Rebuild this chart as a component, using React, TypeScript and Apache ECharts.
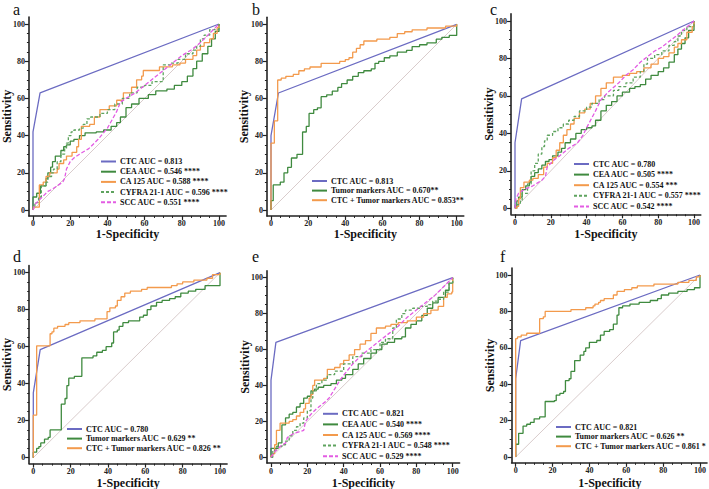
import React, { useEffect, useRef } from "react";
import * as echarts from "echarts";

const FONT = '"Liberation Serif", "Times New Roman", serif';

const tickValues = [0, 20, 40, 60, 80, 100];
const minorValues = [5, 10, 15, 25, 30, 35, 45, 50, 55, 65, 70, 75, 85, 90, 95];
const diagonal = [[0, 0], [100, 100]];

// Panel a
const aCTC = [[0, 0], [0, 42], [3.8, 63], [100, 100]];
const aCEA = [[0, 0], [0, 7], [2, 9], [4, 13], [7, 17], [8, 20], [9.5, 23], [10.5, 26], [12, 29], [15, 32], [16.5, 34], [18, 35], [20, 37], [22, 38], [25, 40], [28, 41.5], [34, 42], [38, 43], [42, 45], [45, 47], [47, 50], [50, 55], [53, 57], [57, 60], [62, 62], [66, 64], [72, 65], [76, 67], [80, 69], [83, 72], [86, 76], [88, 80], [91, 84], [94, 88], [96, 92], [98, 96], [100, 100]];
const aCA125 = [[0, 0], [0, 1.5], [3.4, 13.5], [5.5, 15], [7, 18], [9, 20], [13, 22], [14, 25], [16.5, 27], [18, 29], [21, 31], [23.5, 34], [24.5, 38], [26, 45], [30.5, 46], [33, 50], [36, 54], [41, 56], [45, 59], [48.6, 63], [53, 66], [55.7, 70], [58.4, 72], [59.3, 75], [68, 77], [75, 78], [79, 79], [82, 81], [86, 83], [88, 86], [90, 88], [92, 90], [95, 92], [97, 95], [99, 98], [100, 100]];
const aCYFRA = [[0, 0], [0, 2], [1, 4], [3, 7], [4.5, 13], [7, 15], [8, 18], [10, 20], [11, 22], [13, 26], [15, 30], [17, 33], [18, 36], [19, 40], [20.5, 42], [22, 43], [25, 44], [27, 46], [29, 49], [31, 50], [36, 52], [40, 54], [44, 57], [48, 60], [52, 63], [56, 66], [60, 67], [64, 69], [69.5, 70], [70, 78], [74, 79], [78, 81], [82, 84], [86, 86], [88, 88], [90, 92], [92, 94], [95, 97], [100, 100]];
const aSCC = [[0, 0], [1, 3], [3, 5], [5, 7], [8, 10], [10, 11], [13, 13], [16, 15], [17, 17], [18, 22], [20, 26], [22, 28], [25, 30], [30, 33], [35, 38], [40, 44], [45, 53], [47, 58], [50, 60], [55, 63], [60, 67], [65, 71], [70, 75], [75, 79], [80, 83], [85, 86], [90, 90], [95, 95], [100, 100]];

// Panel b
const bCTC = [[0, 0], [0, 40], [4, 63], [100, 100]];
const bTM = [[0, 0], [0, 5], [1.2, 13.5], [5, 15], [7, 20], [9, 23], [11, 28], [14, 30], [17, 42], [19, 45], [20.5, 52], [23, 54], [25, 55], [27, 61], [30, 62], [33, 64], [36, 66], [38, 68], [41, 70], [44, 72], [47, 74], [50, 75], [54, 76], [56, 79], [58, 80], [61, 82], [64, 83], [68, 85], [73, 86], [76, 88], [80, 89], [84, 90], [89, 92], [92, 93], [96, 94], [100, 95], [100, 100]];
const bCombo = [[0, 0], [0, 36], [1.8, 48], [3.6, 70], [5.5, 71], [8, 72], [12, 73], [15, 75], [18, 76], [21, 77], [27, 79], [37, 80], [40, 81], [42, 82], [44, 85], [46, 87], [48, 89], [50, 91], [57, 92], [64, 93], [68, 95], [72, 96], [76, 97], [84, 98], [94, 99], [100, 100]];

// Panel c
const cCTC = [[0, 0], [0, 35], [3.7, 58.4], [100, 100]];
const cCEA = [[0, 0], [1, 4], [2, 6], [4, 10], [6, 12], [8, 14], [9, 17], [11, 19], [13, 21], [15, 23], [17, 25], [19, 26], [21, 28], [24, 30], [26, 32], [28, 35], [31, 37], [34, 40], [37, 42], [40, 43], [43, 44], [45, 47], [48, 52], [51, 55], [54, 57], [57, 60], [60, 62], [64, 64], [67, 65], [70, 66], [73, 69], [76, 71], [80, 73], [83, 75], [86, 78], [89, 82], [91, 85], [93, 88], [95, 91], [97, 95], [100, 100]];
const cCA125 = [[0, 0], [1, 1], [2, 5], [3, 11], [5, 14], [8, 15], [10, 16], [13, 18], [16, 22], [18, 24], [21, 27], [23, 31], [25, 35], [27, 39], [29, 42], [31, 45], [33, 48], [36, 51], [39, 53], [42, 56], [45, 60], [48, 64], [51, 67], [55, 70], [60, 71], [64, 72], [68, 73], [72, 75], [76, 77], [80, 80], [83, 81], [86, 83], [89, 86], [91, 88], [93, 90], [96, 94], [99, 97], [100, 100]];
const cCYFRA = [[0, 0], [0, 2], [3, 4], [4, 8], [7, 13], [9, 20], [11, 24], [13, 29], [15, 33], [16.5, 36], [18, 39], [21, 41], [24, 43], [27, 45], [30, 47], [33, 49], [36, 52], [40, 54], [43, 56], [47, 58], [50, 60], [55, 63], [58, 65], [62, 67], [66, 70], [70, 73], [72, 77], [74, 80], [78, 82], [82, 84], [86, 87], [89, 89], [91, 92], [93, 95], [96, 97], [100, 100]];
const cSCC = [[0, 0], [0.5, 5], [2, 8], [5, 10], [10, 12], [15, 15], [17, 17], [18, 22], [22, 26], [25, 28], [30, 32], [35, 35], [38, 39], [40, 43], [45, 52], [48, 58], [52, 62], [58, 67], [62, 71], [66, 74], [70, 78], [74, 81], [78, 84], [82, 86], [86, 89], [90, 92], [95, 96], [100, 100]];

// Panel d
const dCTC = [[0, 0], [0, 35], [3.7, 58.4], [100, 100]];
const dTM = [[0, 0], [0, 3], [1.8, 5], [3, 6], [4, 8], [6, 10], [8, 11], [9, 15], [15, 29], [17, 32], [18, 39], [19, 43], [22, 44], [26, 54], [32, 55], [34, 57], [37, 58], [39, 60], [42, 62], [43, 68], [45, 69], [46, 71], [48, 73], [51, 74], [57, 76], [59, 77], [61, 80], [63, 82], [66, 84], [69, 85], [73, 86], [76, 87], [79, 89], [83, 90], [87, 91], [92, 93], [100, 93], [100, 100]];
const dCombo = [[0, 0], [0, 23], [1.8, 60.5], [9, 67], [10, 68], [11, 70], [13, 71], [17, 72], [19, 73], [25, 74], [33, 75], [39.5, 79], [41, 81], [44, 82], [45, 85], [47, 87], [49, 89], [52, 90], [58, 91], [61, 92], [74, 93], [77, 94], [80, 95], [86, 96], [93, 97], [96, 99], [100, 100]];

// Panel e
const eCTC = [[0, 0], [0, 43], [2.7, 64], [100, 100]];
const eCEA = [[0, 0], [0, 5], [3, 5], [4, 8], [6, 18], [8, 22], [10, 24], [12, 25], [14, 28], [16, 30], [18, 33], [20, 34], [22, 37], [24, 38], [26, 39], [29, 40], [33, 41], [36, 43], [39, 44], [41, 46], [45, 49], [48, 52], [51, 55], [55, 58], [58, 60], [61, 63], [64, 64], [68, 66], [72, 67], [74, 72], [77, 74], [80, 76], [83, 79], [86, 83], [89, 86], [92, 89], [96, 93], [98, 97], [100, 100]];
const eCA125 = [[0, 0], [0, 1], [1, 2], [2, 7], [3, 15], [5, 19], [10, 20], [12, 21], [14, 23], [16, 25], [18, 27], [19, 30], [21, 33], [22, 35], [23, 40], [24, 43], [29, 44], [31, 49], [35, 50], [38, 52], [40, 54], [43, 57], [46, 60], [49, 63], [52, 65], [55, 69], [58, 72], [63, 73], [66, 74], [70, 75], [75, 76], [80, 78], [84, 80], [88, 82], [92, 84], [95, 89], [97, 91], [99.5, 92], [100, 100]];
const eCYFRA = [[0, 0], [1, 4], [3, 6], [6, 7], [8, 9], [10, 12], [12, 15], [14, 17], [16, 19], [18, 22], [20, 26], [22, 33], [23, 37], [25, 41], [28, 43], [31, 46], [35, 48], [40, 52], [45, 56], [50, 58], [55, 60], [60, 64], [63, 66], [67, 72], [69, 77], [72, 80], [74, 82], [78, 83], [82, 84], [86, 85], [89, 87], [92, 88], [95, 92], [98, 97], [100, 100]];
const eSCC = [[0, 0], [2, 3], [5, 6], [8, 8], [9, 11], [12, 13], [15, 14], [18, 15], [19, 20], [22, 24], [25, 27], [30, 31], [32, 33], [35, 38], [38, 43], [41, 47], [45, 52], [50, 57], [55, 61], [60, 65], [65, 69], [70, 73], [75, 78], [80, 82], [85, 86], [90, 90], [95, 95], [100, 100]];

// Panel f
const fCTC = [[0, 0], [0, 43], [2.7, 64], [100, 100]];
const fTM = [[0, 0], [0, 7], [1.6, 13], [4, 17], [6, 18], [8, 19], [10, 21], [13, 22], [16, 30.5], [21, 31], [22, 34], [24, 35], [26, 36], [27, 42], [29, 43], [30, 47], [32, 53], [35, 56], [37, 58], [38, 60], [40, 63], [44, 64], [46, 67], [48, 69], [51, 70], [53, 73], [55, 78], [56, 82], [58, 83], [62, 84], [67, 85], [73, 86], [77, 87], [79, 89], [83, 90], [88, 91], [93, 92], [97, 93], [100, 93], [100, 100]];
const fCombo = [[0, 0], [0, 65], [1, 66], [3, 67], [6, 68], [13, 76], [15, 77], [16, 80], [30, 81], [38, 82], [42, 83], [43, 84], [45, 85], [46, 86], [48, 87], [53, 89], [55, 91], [59, 92], [63, 93], [66, 94], [75, 95], [88, 96], [94, 97], [98, 99], [100, 100]];

const C_CTC = "#6b6bc2";
const C_GREEN = "#3f8a3f";
const C_ORANGE = "#f39a4c";
const C_CYFRA = "#5ea35e";
const C_SCC = "#e35ce3";
const C_DIAG = "#d9cccc";

type Curve = { name: string; data: number[][]; color: string; step: boolean; dash?: number[] };

const panels: { letter: string; curves: Curve[] }[] = [
  {
    letter: "a",
    curves: [
      { name: "CTC AUC = 0.813", data: aCTC, color: C_CTC, step: false },
      { name: "CEA AUC = 0.546 ****", data: aCEA, color: C_GREEN, step: true },
      { name: "CA 125 AUC = 0.588 ****", data: aCA125, color: C_ORANGE, step: true },
      { name: "CYFRA 21-1 AUC = 0.596 ****", data: aCYFRA, color: C_CYFRA, step: true, dash: [3, 2] },
      { name: "SCC AUC = 0.551 ****", data: aSCC, color: C_SCC, step: false, dash: [4, 2] },
    ],
  },
  {
    letter: "b",
    curves: [
      { name: "CTC AUC = 0.813", data: bCTC, color: C_CTC, step: false },
      { name: "Tumor markers AUC = 0.670**", data: bTM, color: C_GREEN, step: true },
      { name: "CTC + Tumor markers AUC = 0.853**", data: bCombo, color: C_ORANGE, step: true },
    ],
  },
  {
    letter: "c",
    curves: [
      { name: "CTC AUC = 0.780", data: cCTC, color: C_CTC, step: false },
      { name: "CEA AUC = 0.505 ****", data: cCEA, color: C_GREEN, step: true },
      { name: "CA 125 AUC = 0.554 ***", data: cCA125, color: C_ORANGE, step: true },
      { name: "CYFRA 21-1 AUC = 0.557 ****", data: cCYFRA, color: C_CYFRA, step: true, dash: [3, 2] },
      { name: "SCC AUC = 0.542 ****", data: cSCC, color: C_SCC, step: false, dash: [4, 2] },
    ],
  },
  {
    letter: "d",
    curves: [
      { name: "CTC AUC = 0.780", data: dCTC, color: C_CTC, step: false },
      { name: "Tumor markers AUC = 0.629 **", data: dTM, color: C_GREEN, step: true },
      { name: "CTC + Tumor markers AUC = 0.826 **", data: dCombo, color: C_ORANGE, step: true },
    ],
  },
  {
    letter: "e",
    curves: [
      { name: "CTC AUC = 0.821", data: eCTC, color: C_CTC, step: false },
      { name: "CEA AUC = 0.540 ****", data: eCEA, color: C_GREEN, step: true },
      { name: "CA 125 AUC = 0.569 ****", data: eCA125, color: C_ORANGE, step: true },
      { name: "CYFRA 21-1 AUC = 0.548 ****", data: eCYFRA, color: C_CYFRA, step: true, dash: [3, 2] },
      { name: "SCC AUC = 0.529 ****", data: eSCC, color: C_SCC, step: false, dash: [4, 2] },
    ],
  },
  {
    letter: "f",
    curves: [
      { name: "CTC AUC = 0.821", data: fCTC, color: C_CTC, step: false },
      { name: "Tumor markers AUC = 0.626 **", data: fTM, color: C_GREEN, step: true },
      { name: "CTC + Tumor markers AUC = 0.861 *", data: fCombo, color: C_ORANGE, step: true },
    ],
  },
];

// layout (page pixels)
const layouts = [
  { x0: 33, x100: 219, y0: 210, y100: 24, lgLeft: 100, lgTop: 157.5, lgStep: 9.2, letX: 13, letY: 1, titleY: 234, sensX: 7 },
  { x0: 271, x100: 456.7, y0: 210, y100: 24.3, lgLeft: 311, lgTop: 177, lgStep: 8.6, letX: 252, letY: 1, titleY: 234, sensX: 244 },
  { x0: 515, x100: 694, y0: 208.3, y100: 21, lgLeft: 573, lgTop: 160, lgStep: 9.6, letX: 490, letY: 1, titleY: 234, sensX: 489 },
  { x0: 33.3, x100: 220, y0: 457.7, y100: 272.7, lgLeft: 66, lgTop: 425, lgStep: 8.6, letX: 13, letY: 248, titleY: 483, sensX: 7 },
  { x0: 271, x100: 452.7, y0: 457.3, y100: 277.7, lgLeft: 322, lgTop: 409.8, lgStep: 9.6, letX: 252, letY: 248, titleY: 483, sensX: 245 },
  { x0: 515.7, x100: 701, y0: 457, y100: 275, lgLeft: 555, lgTop: 423, lgStep: 8.6, letX: 500, letY: 248, titleY: 483, sensX: 490 },
];

const XMIN = -2.2, XMAX = 103.8, YMIN = -3.2, YMAX = 103.8;
const AX = "#222";

function buildOption() {
  const grid: any[] = [];
  const xAxis: any[] = [];
  const yAxis: any[] = [];
  const series: any[] = [];
  const legend: any[] = [];
  const graphic: any[] = [];

  panels.forEach((p, i) => {
    const L = layouts[i];
    const sx = (L.x100 - L.x0) / 100;
    const sy = (L.y0 - L.y100) / 100;
    const left = L.x0 + XMIN * sx;
    const width = (XMAX - XMIN) * sx;
    const top = L.y100 - (YMAX - 100) * sy;
    const height = (YMAX - YMIN) * sy;
    grid.push({ left, top, width, height, containLabel: false });

    const mainAxis = (pos: string, min: number, max: number) => ({
      gridIndex: i,
      type: "value",
      position: pos,
      min,
      max,
      axisLine: { show: true, onZero: false, lineStyle: { color: AX, width: 1.6 } },
      axisTick: { show: true, customValues: tickValues, length: 4, lineStyle: { color: AX, width: 1.2 } },
      axisLabel: { show: true, customValues: tickValues, margin: 4, fontSize: 8, fontWeight: "bold", fontFamily: FONT, color: AX },
      splitLine: { show: false },
    });
    const minorAxis = (pos: string, min: number, max: number) => ({
      gridIndex: i,
      type: "value",
      position: pos,
      min,
      max,
      axisLine: { show: false, onZero: false },
      axisTick: { show: true, customValues: minorValues, length: 2, lineStyle: { color: AX, width: 1 } },
      axisLabel: { show: false },
      splitLine: { show: false },
    });
    xAxis.push(mainAxis("bottom", XMIN, XMAX));
    xAxis.push(minorAxis("bottom", XMIN, XMAX));
    yAxis.push(mainAxis("left", YMIN, YMAX));
    yAxis.push(minorAxis("left", YMIN, YMAX));

    series.push({
      type: "line",
      name: "ref" + i,
      xAxisIndex: 2 * i,
      yAxisIndex: 2 * i,
      data: diagonal,
      symbol: "none",
      silent: true,
      lineStyle: { color: C_DIAG, width: 1 },
      z: 1,
    });
    p.curves.forEach((c, k) => {
      series.push({
        type: "line",
        name: c.name,
        xAxisIndex: 2 * i,
        yAxisIndex: 2 * i,
        data: c.data,
        symbol: "none",
        step: c.step ? "end" : false,
        color: c.color,
        lineStyle: { color: c.color, width: 1.3, type: c.dash ? c.dash : "solid" },
        z: 2 + k,
      });
    });

    legend.push({
      orient: "vertical",
      left: L.lgLeft,
      top: L.lgTop,
      padding: 0,
      itemWidth: 15,
      itemHeight: 7,
      itemGap: L.lgStep - 7,
      selectedMode: false,
      itemStyle: { opacity: 0 },
      data: p.curves.map((c) => c.name),
      textStyle: { fontSize: 8, fontWeight: "bold", fontFamily: FONT, color: "#111", lineHeight: 7, padding: [0, 0, 0, -1] },
    });

    graphic.push({
      type: "text",
      left: L.letX,
      top: L.letY,
      style: { text: p.letter, font: `16px ${FONT}`, fill: "#111" },
    });
    graphic.push({
      type: "text",
      x: left + width / 2,
      y: L.titleY,
      style: { text: "1-Specificity", font: `bold 12px ${FONT}`, fill: "#111", textAlign: "center", textVerticalAlign: "middle" },
    });
    graphic.push({
      type: "text",
      x: L.sensX,
      y: top + height / 2,
      rotation: Math.PI / 2,
      style: { text: "Sensitivity", font: `bold 12px ${FONT}`, fill: "#111", textAlign: "center", textVerticalAlign: "middle" },
    });
  });

  return {
    animation: false,
    backgroundColor: "#ffffff",
    grid,
    xAxis,
    yAxis,
    series,
    legend,
    graphic,
  };
}

export default function App() {
  const ref = useRef<HTMLDivElement>(null);
  useEffect(() => {
    if (!ref.current) return;
    const chart = echarts.init(ref.current, null, { renderer: "svg" });
    chart.setOption(buildOption() as any);
    return () => chart.dispose();
  }, []);
  return (
    <div
      ref={ref}
      style={{ position: "fixed", left: 0, top: 0, width: 709, height: 489, background: "#fff" }}
    />
  );
}
